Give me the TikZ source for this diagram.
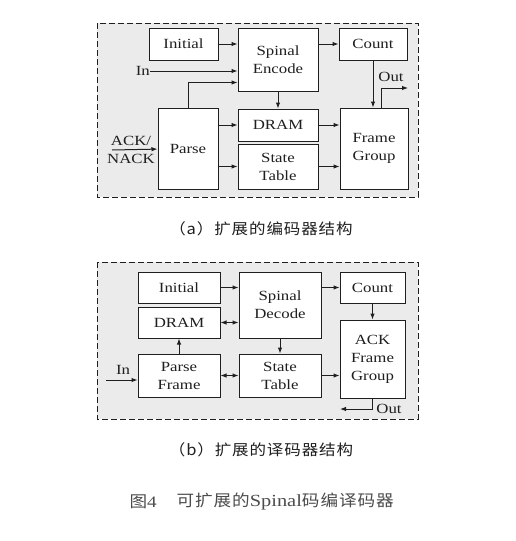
\documentclass[tikz,border=0pt]{standalone}
\usepackage{fontspec}
\setmainfont{Liberation Serif}[FakeStretch=1.2]
\newfontfamily\cjk{Noto Sans CJK SC}[FakeStretch=1.1, LetterSpace=6]
\usetikzlibrary{calc,arrows.meta}
\definecolor{panelgray}{gray}{0.92}
\definecolor{inkgray}{gray}{0.12}
\definecolor{capgray}{gray}{0.3}

\begin{document}
\begin{tikzpicture}[x=1pt,y=-1pt,
    font=\fontsize{14}{18}\selectfont,
    box/.style={draw=inkgray, fill=white, line width=1pt, align=center,
      inner sep=0pt, text=inkgray},
    arr/.style={-{Latex[length=6pt,width=4.5pt]}, line width=1pt, draw=inkgray},
    dbl/.style={{Latex[length=6pt,width=4.5pt]}-{Latex[length=6pt,width=4.5pt]},
      line width=1pt, draw=inkgray},
    panel/.style={draw=inkgray, fill=panelgray, dash pattern=on 6pt off 3pt,
      line width=0.9pt},
    lbl/.style={text=inkgray, inner sep=0pt, align=center}]
    % Page
    \fill[white] (0,0) rectangle (515,541);
    \useasboundingbox (0,0) rectangle (515,541);

    % (a) Encoder panel
    \draw[panel] (97,23) rectangle (418,197);
    \node[box, minimum width=69pt, minimum height=32pt] (initA) at (183.5,44) {Initial};
    \node[box, minimum width=80pt, minimum height=63pt] (encA) at (278,59.5) {Spinal\\Encode};
    \node[box, minimum width=68pt, minimum height=32pt] (countA) at (373,44) {Count};
    \node[box, minimum width=60pt, minimum height=81pt] (parseA) at (188,148.5) {Parse};
    \node[box, minimum width=80pt, minimum height=32pt] (dramA) at (278,125) {DRAM};
    \node[box, minimum width=80pt, minimum height=45pt] (stateA) at (278,166.5) {State\\Table};
    \node[box, minimum width=68pt, minimum height=81pt] (frameA) at (374,148.5) {Frame\\Group};
    % Inputs and output
    \coordinate (inA) at (150,71);
    \coordinate (ackA) at (112,150);
    \coordinate (outA) at (408,88);
    \node[lbl, anchor=east] at (inA) {In};
    \node[lbl] at (131,149.5) {ACK/\\NACK};
    \node[lbl] at (391,77) {Out};
    % Connectors
    \draw[arr] (initA) -- (encA.west|-initA);
    \draw[arr] (encA.east|-countA) -- (countA);
    \draw[arr] (inA) -- (encA.west|-inA);
    \draw[arr] (parseA.north) |- ([yshift=9pt]encA.south west);
    \draw[arr] (encA) -- (dramA);
    \draw[arr] (parseA.east|-dramA) -- (dramA);
    \draw[arr] (parseA.east|-stateA) -- (stateA);
    \draw[arr] (dramA) -- (frameA.west|-dramA);
    \draw[arr] (stateA.east) -- (frameA.west|-stateA);
    \draw[arr] (countA) -- (countA.south|-frameA.north);
    \draw[arr] ([xshift=7pt]frameA.north) |- (outA);
    \draw[arr] (ackA) -- (parseA);

    % (b) Decoder panel
    \draw[panel] (97,262) rectangle (418,419);
    \node[box, minimum width=82pt, minimum height=31pt] (initB) at (179,287.5) {Initial};
    \node[box, minimum width=82pt, minimum height=31pt] (dramB) at (179,322.5) {DRAM};
    \node[box, minimum width=82pt, minimum height=66pt] (decB) at (280,305) {Spinal\\Decode};
    \node[box, minimum width=65pt, minimum height=31pt] (countB) at (372.5,287.5) {Count};
    \node[box, minimum width=82pt, minimum height=43pt] (parseB) at (179,375.5) {Parse\\Frame};
    \node[box, minimum width=82pt, minimum height=43pt] (stateB) at (280,375.5) {State\\Table};
    \node[box, minimum width=65pt, minimum height=78pt] (ackB) at (372.5,359) {ACK\\Frame\\Group};
    % Inputs and output
    \coordinate (inB) at (106,380);
    \coordinate (outB) at (340,409);
    \node[lbl] at (123,370) {In};
    \node[lbl] at (389,409) {Out};
    % Connectors
    \draw[arr] (initB) -- (decB.west|-initB);
    \draw[arr] (decB.east|-countB) -- (countB);
    \draw[dbl] (dramB) -- (decB.west|-dramB);
    \draw[arr] (parseB) -- (dramB);
    \draw[arr] (decB) -- (stateB);
    \draw[dbl] (parseB) -- (stateB);
    \draw[arr] (stateB) -- (ackB.west|-stateB);
    \draw[arr] (countB) -- (ackB);
    \draw[arr] (inB) -- (parseB.west|-inB);
    \draw[arr] (ackB.south) |- (outB);

    % Captions
    \node[text=inkgray, font=\fontsize{15}{15}\selectfont] (capA) at (261,229)
      {\cjk （a）扩展的编码器结构};
    \node[text=inkgray, font=\fontsize{15}{15}\selectfont] (capB) at (261,450)
      {\cjk （b）扩展的译码器结构};
    \node[text=capgray, font=\fontsize{16}{16}\selectfont, anchor=west] (figno) at (126,502)
      {{\cjk 图}4};
    \node[text=capgray, font=\fontsize{16}{16}\selectfont, anchor=west] (title) at (173,502)
      {{\cjk 可扩展的}\fontsize{17}{17}\selectfont Spinal{\cjk\fontsize{16}{16}\selectfont 码编译码器}};
\end{tikzpicture}
\end{document}
